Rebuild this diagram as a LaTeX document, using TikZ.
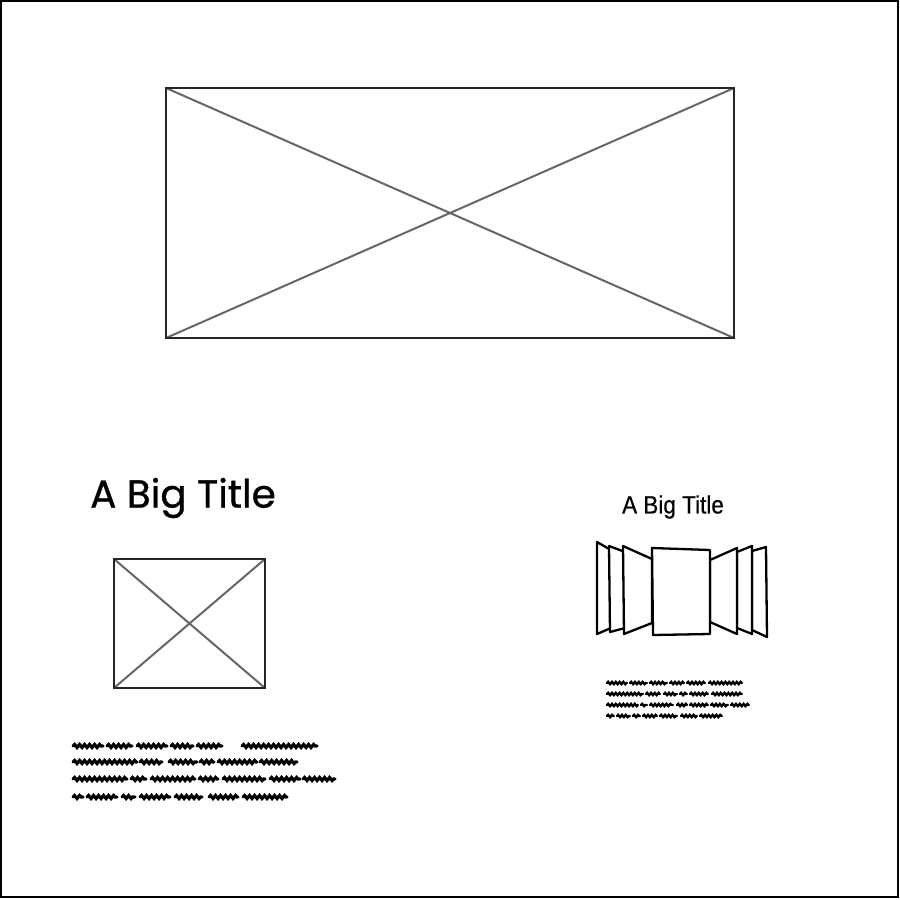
\documentclass[tikz,border=0pt]{standalone}
\usepackage{fontspec}
\setmainfont{Poppins}[FakeBold=0.8]
\newfontfamily\narrowfont{Liberation Sans}[FakeBold=0.6]
\usetikzlibrary{decorations.pathmorphing}
\tikzset{
  frame/.style={draw=black, line width=2pt},
  imgbox/.style={draw=black!85, line width=2pt},
  imgdiag/.style={draw=black!60, line width=2pt},
  panel/.style={draw=black, fill=white, line width=2.3pt, line join=round},
  scribL/.style={draw=black, line width=3.2pt, line cap=round, decorate, decoration={snake, segment length=5pt, amplitude=1.5pt}},
  scribR/.style={draw=black, line width=2.4pt, line cap=round, decorate, decoration={snake, segment length=3.8pt, amplitude=1.1pt}},
}
\begin{document}
\begin{tikzpicture}[x=1pt,y=-1pt]
\useasboundingbox (0,0) rectangle (900,900);
\fill[white] (0,0) rectangle (900,900);
\draw[frame] (1,1) rectangle (898,897);

% big image placeholder
\coordinate (bigA) at (166,88);
\coordinate (bigB) at (734,338);
\draw[imgdiag] (166,88) -- (734,338) (734,88) -- (166,338);
\draw[imgbox] (bigA) rectangle (bigB);

% left title
\node[font=\fontsize{39}{39}\selectfont, inner sep=0pt] (titleL) at (183,498) {A Big Title};

% small image placeholder
\coordinate (smA) at (114,559);
\coordinate (smB) at (265,688);
\draw[imgdiag] (114,559) -- (265,688) (265,559) -- (114,688);
\draw[imgbox] (smA) rectangle (smB);

% left scribble text
\foreach \a/\b in {73/103,107/132,137/167,171/193,197/222,242/317}
  \draw[scribL] (\a,746) -- (\b,746);
\foreach \a/\b in {73/137,140/162,169/197,200/214,218/257,260/297}
  \draw[scribL] (\a,762) -- (\b,762);
\foreach \a/\b in {73/127,131/146,151/195,199/218,223/265,270/300,303/335}
  \draw[scribL] (\a,779) -- (\b,779);
\foreach \a/\b in {73/83,87/117,122/135,140/170,175/202,209/238,243/287}
  \draw[scribL] (\a,797) -- (\b,797);

% right title
\node[font=\narrowfont\fontsize{25}{25}\selectfont, xscale=0.9, inner sep=0pt] (titleR) at (673,507) {A Big Title};

% cover flow
\draw[panel] (597,542) -- (611,550) -- (611,628) -- (597,634) -- cycle;
\draw[panel] (766,547) -- (752,551) -- (752,630) -- (767,637) -- cycle;
\draw[panel] (609,546) -- (625,552) -- (625,628) -- (610,632) -- cycle;
\draw[panel] (752,546) -- (737,552) -- (737,628) -- (752,634) -- cycle;
\draw[panel] (623,546) -- (652,559) -- (652,623) -- (624,634) -- cycle;
\draw[panel] (737,548) -- (710,560) -- (710,622) -- (737,634) -- cycle;
\draw[panel] (652,548) -- (710,550) -- (710,634) -- (653,635) -- cycle;

% right scribble text
\foreach \a/\b in {607/627,630/647,650/667,670/684,687/705,709/742}
  \draw[scribR] (\a,683) -- (\b,683);
\foreach \a/\b in {607/643,646/660,664/677,680/687,690/708,712/742}
  \draw[scribR] (\a,694) -- (\b,694);
\foreach \a/\b in {607/638,641/647,650/673,677/687,690/708,711/728,731/749}
  \draw[scribR] (\a,705) -- (\b,705);
\foreach \a/\b in {607/614,617/630,633/640,643/657,660/677,681/697,700/722}
  \draw[scribR] (\a,716) -- (\b,716);
\end{tikzpicture}
\end{document}
